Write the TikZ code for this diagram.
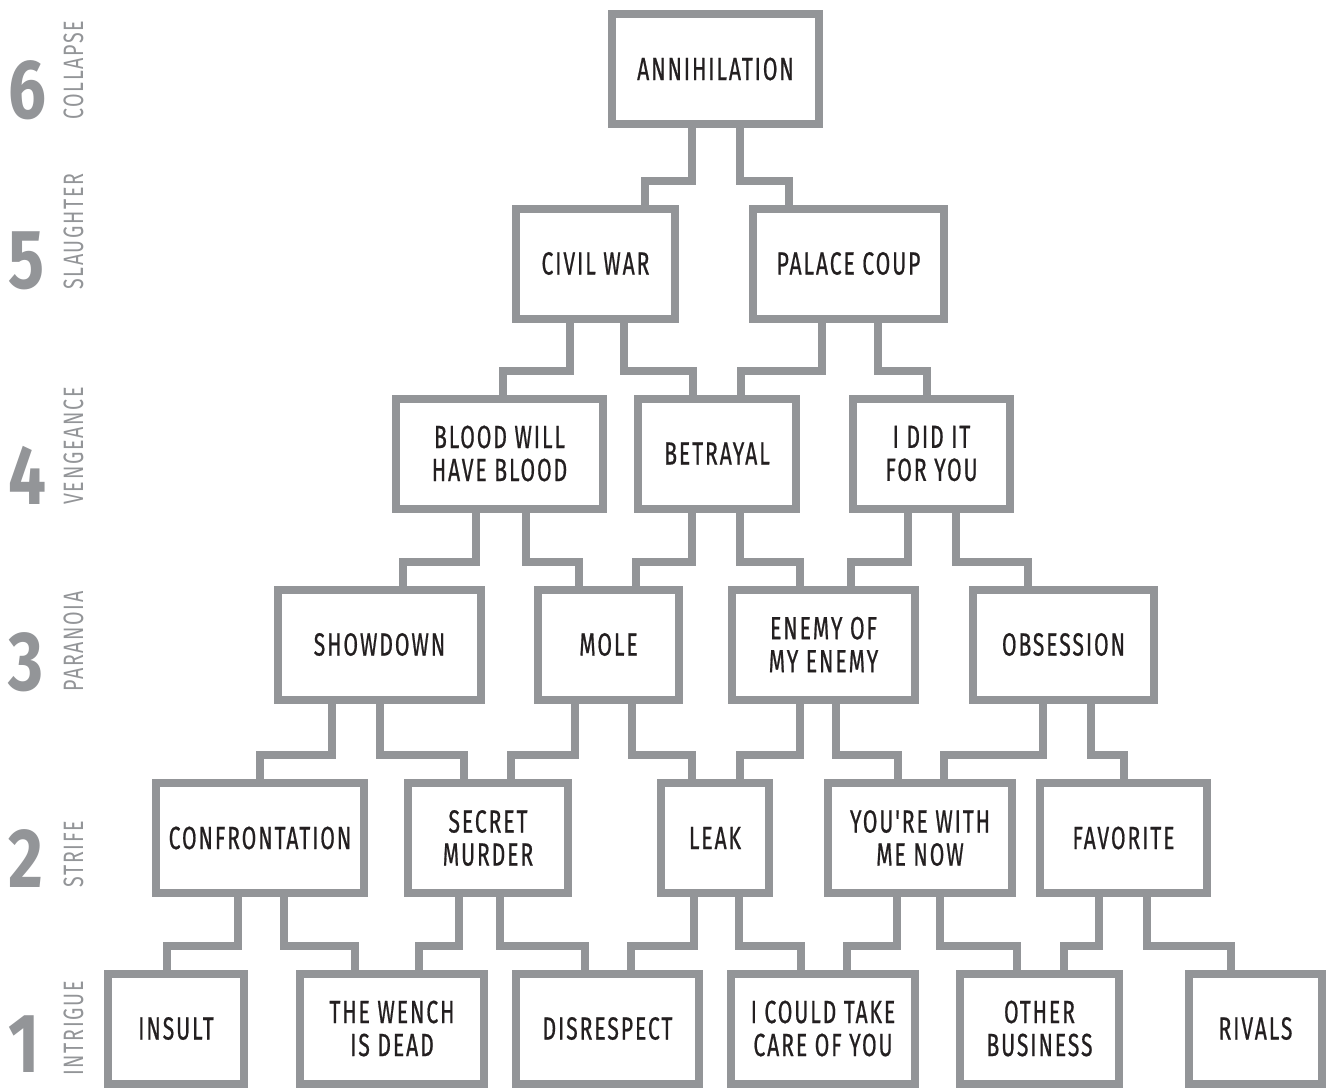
\documentclass[tikz,border=0pt]{standalone}
\usepackage{fontspec}
\usetikzlibrary{calc}
\newfontfamily\boxfont[FakeStretch=0.66, LetterSpace=6, FakeBold=0.6]{Fira Sans}
\newfontfamily\stagefont[FakeStretch=0.7, LetterSpace=6]{Fira Sans}
\newfontfamily\numfont[FakeStretch=0.8]{Fira Sans}
\definecolor{wiregray}{RGB}{147,149,152}
\definecolor{inkblack}{RGB}{35,31,32}
% stepped connector: parent, offset of stub, child, offset of entry
\newcommand{\wire}[4]{%
  \draw[wire] ($(#1.south)+(#2,0)$) |- ($(#3.north)+(#4,-24)$) -- ($(#3.north)+(#4,0)$);}

\begin{document}
\begin{tikzpicture}[x=0.5pt,y=-0.5pt]

\tikzset{box/.style = {shape=rectangle, draw=wiregray, line width=4pt, minimum height=55pt, inner sep=0pt, align=center, text=inkblack, font=\boxfont\fontsize{16}{16.5}\selectfont}}
\tikzset{wd/.style = {minimum width=#1*0.5pt-4pt}}
\tikzset{wire/.style = {draw=wiregray, line width=4pt}}
\tikzset{num/.style = {anchor=south west, inner sep=0pt, text=wiregray, font=\numfont\bfseries\fontsize{42}{42}\selectfont}}
\tikzset{stage/.style = {rotate=90, anchor=base west, inner sep=0pt, text=wiregray, font=\stagefont\fontsize{14}{14}\selectfont}}

\useasboundingbox[fill=white] (0,0) rectangle (1327,1087);

% stage labels
\node[num] (n6) at (8,120) {6};
\node[stage] (s6) at (83,120) {COLLAPSE};
\node[num] (n5) at (8,290) {5};
\node[stage] (s5) at (83,290) {SLAUGHTER};
\node[num] (n4) at (8,505) {4};
\node[stage] (s4) at (83,505) {VENGEANCE};
\node[num] (n3) at (8,692) {3};
\node[stage] (s3) at (83,692) {PARANOIA};
\node[num] (n2) at (8,888) {2};
\node[stage] (s2) at (83,888) {STRIFE};
\node[num] (n1) at (8,1073) {1};
\node[stage] (s1) at (83,1076) {INTRIGUE};

% boxes
\node[box, wd=215] (ann) at (715.5,69) {ANNIHILATION};

\node[box, wd=167] (civ) at (595.5,263.5) {CIVIL WAR};
\node[box, wd=199] (pal) at (848.5,263.5) {PALACE COUP};

\node[box, wd=215] (blo) at (499.5,453.5) {BLOOD WILL\\HAVE BLOOD};
\node[box, wd=166] (bet) at (717,453.5) {BETRAYAL};
\node[box, wd=165] (did) at (931.5,453.5) {I DID IT\\FOR YOU};

\node[box, wd=211] (sho) at (379.5,644.5) {SHOWDOWN};
\node[box, wd=149] (mol) at (608.5,644.5) {MOLE};
\node[box, wd=191] (ene) at (823.5,644.5) {ENEMY OF\\MY ENEMY};
\node[box, wd=189] (obs) at (1063.5,644.5) {OBSESSION};

\node[box, wd=216] (con) at (260,838) {CONFRONTATION};
\node[box, wd=168] (sec) at (488,838) {SECRET\\MURDER};
\node[box, wd=116] (lea) at (715,838) {LEAK};
\node[box, wd=192] (you) at (920,838) {YOU'RE WITH\\ME NOW};
\node[box, wd=175] (fav) at (1123.5,838) {FAVORITE};

\node[box, wd=144] (ins) at (176,1028.5) {INSULT};
\node[box, wd=192] (wen) at (392,1028.5) {THE WENCH\\IS DEAD};
\node[box, wd=191] (dis) at (607.5,1028.5) {DISRESPECT};
\node[box, wd=192] (tak) at (823,1028.5) {I COULD TAKE\\CARE OF YOU};
\node[box, wd=167] (oth) at (1039.5,1028.5) {OTHER\\BUSINESS};
\node[box, wd=141] (riv) at (1255.5,1028.5) {RIVALS};

% connectors
\wire{ann}{-23.5}{civ}{49.5}
\wire{ann}{24.5}{pal}{-59.5}

\wire{civ}{-25.5}{blo}{3.5}
\wire{civ}{28.5}{bet}{-24}
\wire{pal}{-26.5}{bet}{24}
\wire{pal}{29.5}{did}{-4.5}

\wire{blo}{-23.5}{sho}{23.5}
\wire{blo}{26.5}{mol}{-29.5}
\wire{bet}{-25}{mol}{27.5}
\wire{bet}{23}{ene}{-23.5}
\wire{did}{-23.5}{ene}{27.5}
\wire{did}{24.5}{obs}{-35.5}

\wire{sho}{-47.5}{con}{0}
\wire{sho}{0.5}{sec}{-24}
\wire{mol}{-33.5}{sec}{23}
\wire{mol}{23.5}{lea}{-23}
\wire{ene}{-23.5}{lea}{25}
\wire{ene}{12.5}{you}{-22}
\wire{obs}{-20.5}{you}{24}
\wire{obs}{27.5}{fav}{0.5}

\wire{con}{-22}{ins}{-9}
\wire{con}{24}{wen}{-37}
\wire{sec}{-29}{wen}{27}
\wire{sec}{12}{dis}{-22.5}
\wire{lea}{-21}{dis}{23.5}
\wire{lea}{24}{tak}{-22}
\wire{you}{-23}{tak}{24}
\wire{you}{20}{oth}{-22.5}
\wire{fav}{-24.5}{oth}{24.5}
\wire{fav}{23.5}{riv}{-24.5}

\end{tikzpicture}
\end{document}
